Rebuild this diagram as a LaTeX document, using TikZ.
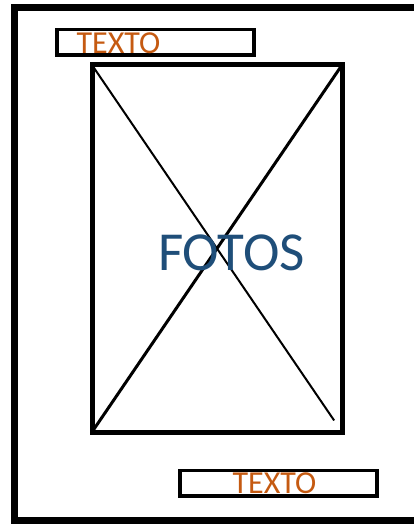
\documentclass[tikz,border=0pt]{standalone}
\usepackage{fontspec}
\setmainfont{Carlito}
\usetikzlibrary{positioning}
\definecolor{fotoblue}{HTML}{1F4E79}
\definecolor{textorange}{HTML}{C55A11}

\begin{document}
\begin{tikzpicture}[x=1pt,y=-1pt,
  textbox/.style={draw,line width=3.5pt,inner sep=0pt,outer sep=0pt,minimum width=197pt,minimum height=25.5pt},
  texto/.style={text=textorange,inner sep=0pt,font=\fontsize{32}{32}\selectfont}]
\useasboundingbox (0,0) rectangle (414,524);
% page frame, its right side runs off the sheet
\draw[line width=7pt] (14.5,7.5) rectangle (440,520);
\node[textbox] (topbox) at (155.5,42.5) {};
\node[texto] (toptext) at (118.5,43.5) {TEXTO};
% photo area with its cross
\node[draw,line width=5pt,inner sep=0pt,outer sep=0pt,minimum width=250pt,minimum height=367pt] (fotos) at (217,248.5) {};
\draw[line width=2pt,shorten >=14pt] (fotos.north west) -- (fotos.south east);
\draw[line width=3pt,shorten <=2pt] (fotos.south west) -- (fotos.north east);
\node[text=fotoblue,inner sep=0pt,font=\fontsize{55}{55}\selectfont] (fotolabel) at (231.5,252.5) {FOTOS};
\node[textbox] (botbox) at (278.5,483) {};
\node[texto] (bottext) at (274.5,483.5) {TEXTO};
\end{tikzpicture}
\end{document}
